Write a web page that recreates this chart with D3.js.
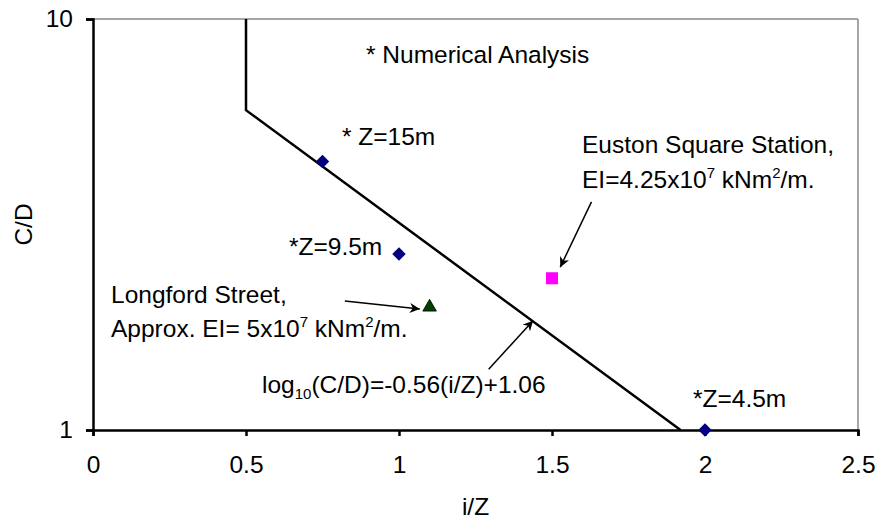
<!DOCTYPE html>
<html>
<head>
<meta charset="utf-8">
<script src="https://cdn.jsdelivr.net/npm/d3@7"></script>
<style>
  body { margin: 0; background: #fff; }
  svg text { font-family: "Liberation Sans", Arial, sans-serif; fill: #000; }
</style>
</head>
<body>
<div id="chart"></div>
<script>
// data
var boundaryX = [0.5, 0.5, 1.92];
var boundaryY = [10, 6, 1];

var numericalX = [0.75, 1.0, 2.0];
var numericalY = [4.5, 2.68, 1.0];
var numericalLabels = ["* Z=15m", "*Z=9.5m", "*Z=4.5m"];

var eustonX = [1.5];
var eustonY = [2.34];
var longfordX = [1.1];
var longfordY = [1.99];

var xTicks = [0, 0.5, 1, 1.5, 2, 2.5];
var yTicks = [1, 10];

var width = 879, height = 521;
var margin = {top: 19, right: 21, bottom: 91, left: 93};
var fontSize = "24.5px";

var svg = d3.select("#chart").append("svg")
	.attr("width", width)
	.attr("height", height);

var x = d3.scaleLinear().domain([0, 2.5]).range([margin.left, width - margin.right]);
var y = d3.scaleLog().domain([1, 10]).range([height - margin.bottom, margin.top]);

// arrow head
svg.append("defs").append("marker")
	.attr("id", "arrow")
	.attr("viewBox", "0 0 10 10")
	.attr("refX", 10)
	.attr("refY", 5)
	.attr("markerWidth", 10)
	.attr("markerHeight", 10)
	.attr("markerUnits", "userSpaceOnUse")
	.attr("orient", "auto")
	.append("path")
	.attr("d", "M0,0 L10,5 L0,10 L3,5 Z")
	.attr("fill", "#000");

// frame: grey top and right
svg.append("line")
	.attr("x1", x(0)).attr("x2", x(2.5))
	.attr("y1", y(10)).attr("y2", y(10))
	.attr("stroke", "#888").attr("stroke-width", 1.5);
svg.append("line")
	.attr("x1", x(2.5)).attr("x2", x(2.5))
	.attr("y1", y(10)).attr("y2", y(1))
	.attr("stroke", "#888").attr("stroke-width", 1.5);

// axes
var xAxis = svg.append("g")
	.attr("transform", "translate(0," + y(1) + ")")
	.call(d3.axisBottom(x).tickValues(xTicks).tickFormat(d3.format("")).tickSizeOuter(0).tickSize(6).tickPadding(20));
var yAxis = svg.append("g")
	.attr("transform", "translate(" + x(0) + ",0)")
	.call(d3.axisLeft(y).tickValues(yTicks).tickFormat(d3.format("d")).tickSizeOuter(0).tickSize(7).tickPadding(13));

[xAxis, yAxis].forEach(function(a){
	a.select(".domain").attr("stroke", "#000").attr("stroke-width", 2.5);
	a.selectAll(".tick line").attr("stroke", "#000").attr("stroke-width", 2.5);
	a.selectAll(".tick text")
		.style("font-family", "'Liberation Sans', Arial, sans-serif")
		.style("font-size", fontSize)
		.attr("fill", "#000");
});

// axis titles
svg.append("text")
	.attr("x", (x(0) + x(2.5)) / 2)
	.attr("y", 515)
	.attr("text-anchor", "middle")
	.style("font-size", fontSize)
	.text("i/Z");
svg.append("text")
	.attr("transform", "translate(32," + ((y(1) + y(10)) / 2) + ") rotate(-90)")
	.attr("text-anchor", "middle")
	.style("font-size", fontSize)
	.text("C/D");

// boundary line
var boundary = boundaryX.map(function(d, i){ return [d, boundaryY[i]]; });
svg.append("path")
	.datum(boundary)
	.attr("fill", "none")
	.attr("stroke", "#000")
	.attr("stroke-width", 2.5)
	.attr("d", d3.line().x(function(d){ return x(d[0]); }).y(function(d){ return y(d[1]); }));

// numerical points
svg.selectAll(".num")
	.data(numericalX.map(function(d, i){ return [d, numericalY[i]]; }))
	.enter().append("path")
	.attr("class", "num")
	.attr("transform", function(d){ return "translate(" + x(d[0]) + "," + y(d[1]) + ")"; })
	.attr("d", d3.symbol().type(d3.symbolDiamond2).size(115))
	.attr("fill", "#000080");

// case studies
svg.selectAll(".euston")
	.data(eustonX.map(function(d, i){ return [d, eustonY[i]]; }))
	.enter().append("rect")
	.attr("x", function(d){ return x(d[0]) - 6; })
	.attr("y", function(d){ return y(d[1]) - 6; })
	.attr("width", 12).attr("height", 12)
	.attr("fill", "#ff00ff");

svg.selectAll(".longford")
	.data(longfordX.map(function(d, i){ return [d, longfordY[i]]; }))
	.enter().append("path")
	.attr("transform", function(d){ return "translate(" + x(d[0]) + "," + y(d[1]) + ")"; })
	.attr("d", d3.symbol().type(d3.symbolTriangle).size(80))
	.attr("fill", "#004000")
	.attr("stroke", "#000")
	.attr("stroke-width", 0.8);

// arrows (in data coords)
var arrows = [
	[[1.629, 3.59], [1.527, 2.49]],
	[[0.823, 2.06], [1.068, 1.97]],
	[[1.293, 1.405], [1.438, 1.845]]
];
svg.selectAll(".arrow")
	.data(arrows)
	.enter().append("line")
	.attr("x1", function(d){ return x(d[0][0]); })
	.attr("y1", function(d){ return y(d[0][1]); })
	.attr("x2", function(d){ return x(d[1][0]); })
	.attr("y2", function(d){ return y(d[1][1]); })
	.attr("stroke", "#000")
	.attr("stroke-width", 1.5)
	.attr("marker-end", "url(#arrow)");

// text annotations; objects are super/subscripts
function label(px, py, parts){
	var t = svg.append("text")
		.attr("x", px).attr("y", py)
		.style("font-size", fontSize);
	var shift = 0;
	parts.forEach(function(p){
		if (typeof p == "string") {
			t.append("tspan").attr("dy", -shift).text(p);
			shift = 0;
		} else {
			shift = p.up ? -10 : 6;
			t.append("tspan")
				.attr("dy", shift)
				.style("font-size", "15px")
				.text(p.t);
		}
	});
	return t;
}

label(366, 63, ["* Numerical Analysis"]);
label(342, 145, [numericalLabels[0]]);
label(289, 255, [numericalLabels[1]]);
label(693, 407, [numericalLabels[2]]);
label(582, 153, ["Euston Square Station,"]);
label(582, 188, ["EI=4.25x10", {t: "7", up: true}, " kNm", {t: "2", up: true}, "/m."]);
label(111, 303, ["Longford Street,"]);
label(111, 337, ["Approx. EI= 5x10", {t: "7", up: true}, " kNm", {t: "2", up: true}, "/m."]);
label(262, 393, ["log", {t: "10", up: false}, "(C/D)=-0.56(i/Z)+1.06"]);
</script>
</body>
</html>
